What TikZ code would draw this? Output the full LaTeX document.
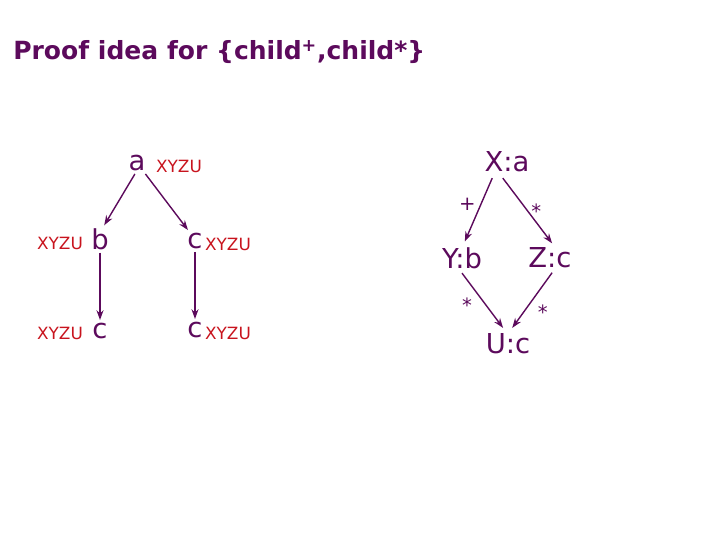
\documentclass[tikz,border=0pt]{standalone}
\usepackage{fontspec}
\setmainfont{DejaVu Sans}
\usepackage{tikz}
\usetikzlibrary{arrows.meta}
\definecolor{plum}{HTML}{5C0A5C}
\definecolor{tagred}{HTML}{C8141E}
\tikzset{
  lbl/.style={text=plum, font=\fontsize{19.5}{23}\selectfont, inner sep=2pt},
  tag/.style={text=tagred, font=\fontsize{12}{14}\selectfont, inner sep=1pt},
  edg/.style={text=plum, font=\fontsize{14}{16}\selectfont, inner sep=1pt},
  arr/.style={draw=plum, line width=1pt, -{Stealth[length=7pt,width=5pt]}}
}
\newcommand{\treenode}[4]{\node[lbl] (#1) at ( #2 , #3 ) {#4};}
\newcommand{\tagnode}[3]{\node[tag] at ( #1 , #2 ) {#3};}

\begin{document}
\begin{tikzpicture}[x=0.025cm, y=-0.025cm]
        \useasboundingbox (0,0) rectangle (720,540);
        \node[anchor=west, text=plum, inner sep=0pt,
              font=\bfseries\fontsize{17.8}{21}\selectfont] (title) at (13,52)
              {Proof idea for \{child\textsuperscript{+},child*\}};

        % the tree and its labels
        \treenode{a}{137}{163}{a}
        \tagnode{179}{166}{XYZU}
        \treenode{b}{100}{239}{b}
        \tagnode{60}{243}{XYZU}
        \treenode{c1}{195}{241}{c}
        \tagnode{228}{244}{XYZU}
        \treenode{b2}{100}{331}{c}
        \tagnode{60}{333}{XYZU}
        \treenode{c2}{195}{330}{c}
        \tagnode{228}{333}{XYZU}

        \draw[arr] ([xshift=-1.5pt]a.south) -- ([xshift=3pt]b.north);
        \draw[arr] ([xshift=6pt]a.south) -- ([xshift=-5pt]c1.north);
        \draw[arr] (b) -- (b2);
        \draw[arr] (c1) -- (c2);

        % the pattern
        \treenode{X}{507}{162}{X:a}
        \treenode{Y}{462}{258}{Y:b}
        \treenode{Z}{550}{258}{Z:c}
        \treenode{U}{508}{344}{U:c}

        \draw[arr] ([xshift=-10.5pt,yshift=-2pt]X.south) -- ([xshift=2pt,yshift=2pt]Y.north)
              node[edg, pos=0.43, left=2pt, yshift=1pt] {+};
        \draw[arr] ([xshift=-3pt,yshift=-2pt]X.south) -- ([xshift=1.5pt,yshift=1pt]Z.north)
              node[edg, pos=0.45, right=3pt, yshift=-3pt] {*};
        \draw[arr] ([yshift=-1pt]Y.south) -- ([xshift=-3.5pt,yshift=2pt]U.north)
              node[edg, pos=0.5, left=6pt, yshift=-3pt] {*};
        \draw[arr] ([xshift=1.5pt,yshift=-1pt]Z.south) -- ([xshift=3pt,yshift=2pt]U.north)
              node[edg, pos=0.62, right=6pt, yshift=-4pt] {*};

    \end{tikzpicture}
\end{document}
